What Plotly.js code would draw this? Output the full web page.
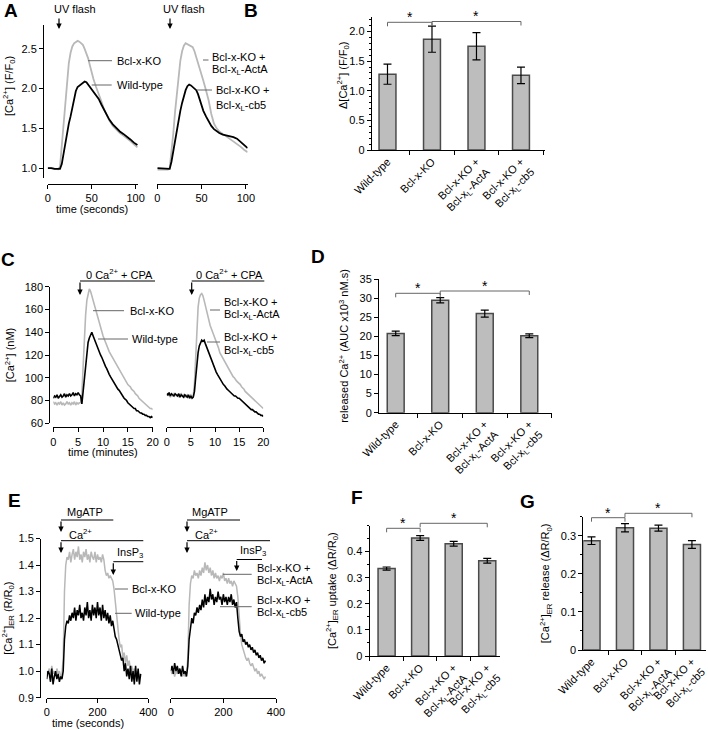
<!DOCTYPE html>
<html>
<head>
<meta charset="utf-8">
<script src="https://cdn.plot.ly/plotly-3.0.1.min.js"></script>
<style>html,body{margin:0;padding:0;background:#fff;}#chart{width:708px;height:730px;}</style>
</head>
<body>
<div id="chart"></div>
<script>
// ---------- Panel A : UV flash, [Ca2+] (F/F0) ----------
const timeA = [0,4,8,12,14,16,18,20,22,24,26,28,30,32,34,36,38,40,42,44,46,48,50,52,55,58,61,64,67,70,74,78,82,86,90,94,98,102];
const aWildType = [1.0,1.0,0.99,0.985, 0.99,1.05,1.18,1.32,1.45,1.56,1.65,1.75,1.88,1.97, 2.02,2.04,2.05,2.07,2.09,2.08,2.05,2.03,2.0,1.97, 1.92,1.87,1.8,1.74,1.67,1.61, 1.55,1.5,1.46,1.43,1.4,1.36,1.32,1.29];
const aKO = [1.0,1.0,0.99,0.985, 1.02,1.28,1.52,1.8,2.1,2.32,2.45,2.53,2.57,2.59, 2.6,2.59,2.57,2.55,2.5,2.44,2.38,2.29,2.2,2.12, 2.02,1.94,1.84,1.74,1.66,1.6, 1.53,1.48,1.44,1.41,1.38,1.34,1.3,1.26];
const aActA = [0.98,0.98,0.985,0.98, 1.0,1.2,1.43,1.7,1.95,2.18,2.35,2.47,2.54,2.57, 2.56,2.55,2.53,2.52,2.47,2.4,2.33,2.27,2.2,2.1, 1.98,1.85,1.68,1.56,1.5,1.46, 1.43,1.4,1.36,1.33,1.3,1.27,1.23,1.2];
const aCb5 = [1.0,0.995,0.99,0.985, 0.99,1.08,1.22,1.35,1.48,1.6,1.72,1.82,1.92,1.98, 2.03,2.05,2.04,2.02,2.0,1.98,1.93,1.86,1.78,1.72, 1.65,1.58,1.53,1.49,1.46,1.44, 1.42,1.41,1.4,1.39,1.37,1.33,1.29,1.25];

// ---------- Bar panels (B, D, F, G) ----------
const categories = ['Wild-type','Bcl-x-KO','Bcl-x-KO +<br>Bcl-x<sub>L</sub>-ActA','Bcl-x-KO +<br>Bcl-x<sub>L</sub>-cb5'];
const bValues = [1.28,1.87,1.75,1.26];
const bErrors = [0.17,0.22,0.23,0.14];
const dValues = [20.8,29.5,26.0,20.2];
const dErrors = [0.6,0.7,0.9,0.5];
const fValues = [0.335,0.452,0.43,0.365];
const fErrors = [0.006,0.009,0.009,0.009];
const gValues = [0.287,0.321,0.32,0.277];
const gErrors = [0.01,0.011,0.008,0.01];

// ---------- Panel C : 0 Ca2+ + CPA, [Ca2+] (nM), time in minutes ----------
const timeC = [
 0,0.25,0.5,0.75, 1,1.25,1.5,1.75, 2,2.25,2.5,2.75, 3,3.25,3.5,3.75, 4,4.25,4.5,4.75,
 5,5.25,5.5,5.75, 6,6.25,6.5,6.75, 7,7.25,7.5,7.75, 8,8.25,8.5,8.75, 9,9.25,9.5,9.75,
 10,10.25,10.5,10.75, 11,11.25,11.5,11.75, 12,12.25,12.5,12.75, 13,13.25,13.5,13.75, 14,14.25,14.5,14.75,
 15,15.25,15.5,15.75, 16,16.25,16.5,16.75, 17,17.25,17.5,17.75, 18,18.25,18.5,18.75, 19,19.25,19.5,19.75, 20];
const cWildType = [
 82,84,83,85, 82,84,85,83, 84,86,83,85, 84,86,84,85, 87,84,86,85,
 87,85,84,77, 88,100,112,124, 131,135,138,140, 137,134,131,128, 125,122,120,118,
 115,113,110,108, 105,103,101,99, 97,95,94,92, 90,89,87,85, 84,82,81,80,
 78,77,76,75, 74,73,73,71, 71,70,69,69, 68,68,67,67, 66,66,65,66, 65];
const cKO = [
 79,77,78,76, 78,77,79,76, 78,76,77,79, 77,78,76,78, 77,79,76,78,
 77,78,78,85, 110,135,155,168, 175,178,176,172, 168,163,159,155, 151,147,143,140,
 137,134,131,128, 126,123,121,119, 117,115,113,111, 109,107,105,103, 101,99,98,96,
 94,93,92,90, 89,88,86,85, 84,82,81,80, 79,78,77,76, 75,74,73,73, 72];
const cActA = [
 84,86,85,83, 85,84,86,85, 84,85,83,85, 86,84,85,83, 84,85,83,84,
 85,83,84,95, 120,145,162,170, 173,174,172,168, 163,158,153,149, 146,143,140,138,
 136,132,129,126, 122,120,118,116, 114,112,110,108, 106,104,103,101, 100,98,97,96,
 95,94,92,91, 90,88,87,86, 85,84,83,82, 81,80,79,78, 77,76,75,74, 73];
const cCb5 = [
 86,85,87,84, 86,85,84,86, 85,84,86,83, 85,84,83,85, 84,83,85,82,
 84,82,83,88, 100,112,122,128, 131,133,132,133, 130,127,124,121, 118,115,112,110,
 107,105,103,101, 99,97,96,94, 93,91,90,89, 88,87,86,85, 84,84,83,82,
 82,81,80,79, 78,77,76,75, 74,73,72,72, 71,70,70,69, 68,68,67,67, 66];

// ---------- Panel E : [Ca2+]ER (R/R0), time in seconds ----------
const timeE = [0,5,10,15,20,25,30,35,40,45, 50,55,60,65,70,75,80,85,90,95, 100,105,110,115,120,125,130,135,140,145,
 150,155,160,165,170,175,180,185,190,195, 200,205,210,215,220,225,230,235,240,245, 250,255,260,265,270,275,280,285,290,295,
 300,305,310,315,320,325,330,335,340,345, 350,355,360,365,370];
const eKO = [1.0,0.99,1.01,0.98,1.02,0.99,1.0,0.98,1.01,0.99, 1.0,0.98,0.99,1.05,1.3,1.4,1.43,1.42,1.45,1.41,
 1.44,1.46,1.42,1.45,1.43,1.47,1.42,1.44,1.41,1.45, 1.43,1.46,1.42,1.44,1.41,1.45,1.43,1.42,1.45,1.41,
 1.44,1.42,1.43,1.41,1.44,1.42,1.38,1.36,1.37,1.35, 1.36,1.35,1.34,1.31,1.26,1.2,1.16,1.12,1.09,1.1,
 1.05,1.07,1.03,1.06,1.02,1.04,1.0,1.02,0.99,1.01, 0.98,1.0,0.97,0.99,0.98];
const eWildType = [0.97,1.0,0.99,0.96,1.01,0.95,0.98,1.0,0.97,0.99, 0.96,0.98,0.97,1.0,1.12,1.17,1.19,1.18,1.21,1.19,
 1.22,1.2,1.24,1.19,1.23,1.21,1.25,1.2,1.22,1.19, 1.24,1.21,1.26,1.2,1.23,1.19,1.25,1.21,1.24,1.2,
 1.26,1.21,1.24,1.19,1.25,1.2,1.23,1.19,1.22,1.18, 1.21,1.17,1.19,1.15,1.13,1.12,1.1,1.08,1.07,1.04,
 1.05,1.0,1.03,0.98,1.01,0.97,1.02,0.96,1.0,0.95, 1.02,0.96,1.01,0.95,0.99];
const eActA = [1.0,0.99,1.0,0.98,1.0,0.99,1.01,0.99,1.0,0.98, 0.99,0.98,0.99,1.05,1.25,1.33,1.36,1.35,1.38,1.36,
 1.37,1.35,1.38,1.36,1.39,1.37,1.41,1.38,1.4,1.37, 1.39,1.36,1.38,1.35,1.37,1.35,1.36,1.34,1.36,1.35,
 1.37,1.34,1.35,1.33,1.35,1.33,1.34,1.32,1.34,1.33, 1.32,1.28,1.2,1.14,1.1,1.08,1.06,1.05,1.04,1.05,
 1.03,1.02,1.03,1.01,1.0,1.01,0.99,1.0,0.98,0.99, 0.98,0.97,0.98];
const eCb5 = [1.0,1.02,0.99,1.03,1.0,1.02,0.99,1.01,0.98,1.02, 0.99,1.0,0.98,1.02,1.12,1.17,1.2,1.18,1.22,1.21,
 1.24,1.22,1.25,1.23,1.27,1.24,1.29,1.25,1.28,1.26, 1.31,1.27,1.29,1.25,1.28,1.26,1.3,1.27,1.28,1.25,
 1.29,1.26,1.28,1.25,1.28,1.26,1.29,1.25,1.27,1.24, 1.26,1.2,1.15,1.13,1.14,1.11,1.12,1.1,1.11,1.09,
 1.1,1.08,1.09,1.07,1.08,1.06,1.07,1.05,1.06,1.04, 1.05,1.03,1.04];

// ================= drawing =================
const W = 708, H = 730;
const PX = x => x / W;
const PY = y => 1 - y / H;
const GREY = '#b8b8b8';
const FONT = 'Liberation Sans, Arial, Helvetica, sans-serif';

const traces = [];
function line(x, y, xa, ya, color, width) {
  traces.push({x: x, y: y, xaxis: xa, yaxis: ya, type: 'scatter', mode: 'lines',
    line: {color: color, width: width}, hoverinfo: 'skip'});
}
line(timeA, aKO, 'x', 'y', GREY, 1.8);
line(timeA, aWildType, 'x', 'y', '#000', 1.8);
line(timeA, aActA, 'x2', 'y2', GREY, 1.8);
line(timeA, aCb5, 'x2', 'y2', '#000', 1.8);
line(timeC, cKO, 'x4', 'y4', GREY, 1.6);
line(timeC, cWildType, 'x4', 'y4', '#000', 1.6);
line(timeC, cActA, 'x5', 'y5', GREY, 1.6);
line(timeC, cCb5, 'x5', 'y5', '#000', 1.6);
line(timeE, eKO, 'x7', 'y7', GREY, 1.5);
line(timeE, eWildType, 'x7', 'y7', '#000', 1.5);
line(timeE.slice(0, eActA.length), eActA, 'x8', 'y8', GREY, 1.5);
line(timeE.slice(0, eCb5.length), eCb5, 'x8', 'y8', '#000', 1.5);

function bars(vals, errs, xa, ya, width) {
  traces.push({type: 'bar', x: categories, y: vals, xaxis: xa, yaxis: ya, width: width,
    marker: {color: '#bdbdbd', line: {color: '#4a4a4a', width: 1.5}},
    error_y: {type: 'data', array: errs, visible: true, color: '#000', thickness: 1.2, width: 4},
    hoverinfo: 'skip'});
}
bars(bValues, bErrors, 'x3', 'y3', 0.38);
bars(dValues, dErrors, 'x6', 'y6', 0.38);
bars(fValues, fErrors, 'x9', 'y9', 0.51);
bars(gValues, gErrors, 'x10', 'y10', 0.51);

const base = {showgrid: false, zeroline: false, showline: true, linecolor: '#000', linewidth: 1,
  ticks: 'outside', ticklen: 4, tickwidth: 1, tickcolor: '#000',
  tickfont: {size: 11, color: '#000', family: FONT}, fixedrange: true};
const ax = o => Object.assign({}, base, o);
const ttl = (t, s) => ({text: t, font: {size: 11, color: '#000', family: FONT}, standoff: s});
const catAx = (d0, d1, r0, r1, anchor) => ax({type: 'category', domain: [PX(d0), PX(d1)], range: [r0, r1],
  anchor: anchor, tickson: 'boundaries', tickangle: -45, tickfont: {size: 11, color: '#000', family: FONT}});
const hidden = (domain, range, anchor) => ({domain: domain, range: range, visible: false, anchor: anchor, fixedrange: true});

const yA = [PY(178), PY(25)];
const yC = [PY(423.3), PY(286.7)];
const yE = [PY(697.7), PY(538.5)];

const layout = {
  width: W, height: H, margin: {l: 0, r: 0, t: 0, b: 0},
  paper_bgcolor: '#fff', plot_bgcolor: 'rgba(0,0,0,0)', showlegend: false,
  font: {family: FONT, size: 11, color: '#000'},
  // A
  xaxis: ax({domain: [PX(47.7), PX(138.3)], range: [0, 103], anchor: 'free', position: PY(184), tickvals: [0, 50, 100]}),
  yaxis: ax({domain: yA, range: [0.875, 2.8], anchor: 'free', position: PX(43), tickvals: [1, 1.5, 2, 2.5], tickformat: '.1f'}),
  xaxis2: ax({domain: [PX(157.3), PX(247.6)], range: [0, 102], anchor: 'free', position: PY(184), tickvals: [0, 50, 100]}),
  yaxis2: hidden(yA, [0.875, 2.8], 'x2'),
  // B
  xaxis3: catAx(371.7, 545, -0.355, 3.54, 'y3'),
  yaxis3: ax({domain: [PY(150), PY(16.7)], range: [0, 2.25], anchor: 'x3',
    tickmode: 'array', tickvals: [0, 0.5, 1, 1.5, 2], ticktext: ['0', '0.5', '1.0', '1.5', '2.0'],
    minor: {tickmode: 'linear', tick0: 0, dtick: 0.1, ticks: 'outside', ticklen: 2, tickcolor: '#000'}}),
  // C
  xaxis4: ax({domain: [PX(53.3), PX(152.7)], range: [0, 20], anchor: 'free', position: PY(427.3), dtick: 5, tick0: 0}),
  yaxis4: ax({domain: yC, range: [60, 180], anchor: 'free', position: PX(49.3), dtick: 20, tick0: 60,
    title: ttl('[Ca<sup>2+</sup>] (nM)', 6)}),
  xaxis5: ax({domain: [PX(166.7), PX(263.3)], range: [0, 20], anchor: 'free', position: PY(427.3), dtick: 5, tick0: 0}),
  yaxis5: hidden(yC, [60, 180], 'x5'),
  // D
  xaxis6: catAx(379, 552, -0.375, 3.51, 'y6'),
  yaxis6: ax({domain: [PY(412.7), PY(279.3)], range: [0, 35], anchor: 'x6', dtick: 5, tick0: 0,
    title: ttl('released Ca<sup>2+</sup> (AUC x10<sup>3</sup> nM.s)', 8)}),
  // E
  xaxis7: ax({domain: [PX(46.7), PX(148.3)], range: [0, 400], anchor: 'free', position: PY(698), tickvals: [0, 200, 400]}),
  yaxis7: ax({domain: yE, range: [0.9, 1.5], anchor: 'free', position: PX(40), dtick: 0.1, tick0: 0.9, tickformat: '.1f',
    title: ttl('[Ca<sup>2+</sup>]<sub>ER</sub> (R/R<sub>0</sub>)', 6)}),
  xaxis8: ax({domain: [PX(170.7), PX(276)], range: [0, 400], anchor: 'free', position: PY(698), tickvals: [0, 200, 400]}),
  yaxis8: hidden(yE, [0.9, 1.5], 'x8'),
  // F
  xaxis9: catAx(369.5, 500, -0.51, 3.38, 'y9'),
  yaxis9: ax({domain: [PY(656), PY(525.5)], range: [0, 0.5], anchor: 'x9',
    tickmode: 'array', tickvals: [0, 0.1, 0.2, 0.3, 0.4], ticktext: ['0', '0.1', '0.2', '0.3', '0.4'],
    minor: {tickmode: 'linear', tick0: 0, dtick: 0.05, ticks: 'outside', ticklen: 2, tickcolor: '#000'},
    title: ttl('[Ca<sup>2+</sup>]<sub>ER</sub> uptake (\u0394R/R<sub>0</sub>)', 8)}),
  // G
  xaxis10: catAx(583.3, 706, -0.245, 3.42, 'y10'),
  yaxis10: ax({domain: [PY(650), PY(516.7)], range: [0, 0.35], anchor: 'x10',
    tickmode: 'array', tickvals: [0, 0.1, 0.2, 0.3], ticktext: ['0', '0.1', '0.2', '0.3'],
    minor: {tickmode: 'linear', tick0: 0, dtick: 0.05, ticks: 'outside', ticklen: 2, tickcolor: '#000'},
    title: ttl('[Ca<sup>2+</sup>]<sub>ER</sub> release (\u0394R/R<sub>0</sub>)', 8)}),
  annotations: [], shapes: []
};

const ann = layout.annotations, shp = layout.shapes;
function txt(x, y, text, o) {
  ann.push(Object.assign({xref: 'paper', yref: 'paper', x: PX(x), y: PY(y), text: text, showarrow: false,
    xanchor: 'left', yanchor: 'middle', font: {size: 11, color: '#000', family: FONT}}, o || {}));
}
function seg(x0, y0, x1, y1, color) {
  shp.push({type: 'line', xref: 'paper', yref: 'paper', x0: PX(x0), y0: PY(y0), x1: PX(x1), y1: PY(y1),
    line: {color: color || '#000', width: 1}});
}
function arrowDown(x, yTop, yTip) {
  ann.push({xref: 'paper', yref: 'paper', x: PX(x), y: PY(yTip), ax: 0, ay: -(yTip - yTop), text: '',
    showarrow: true, arrowhead: 2, arrowsize: 0.9, arrowwidth: 1.2, arrowcolor: '#000'});
}
function letter(x, y, L) {
  txt(x, y, '<b>' + L + '</b>', {xanchor: 'center', font: {size: 19, color: '#000', family: FONT}});
}
function bracket(xa, i0, i1, y, starY) {
  const yr = 'paper';
  shp.push({type: 'line', xref: xa, yref: yr, x0: i0, x1: i1, y0: PY(y), y1: PY(y), line: {color: '#666', width: 1}});
  shp.push({type: 'line', xref: xa, yref: yr, x0: i0, x1: i0, y0: PY(y), y1: PY(y + 4), line: {color: '#666', width: 1}});
  shp.push({type: 'line', xref: xa, yref: yr, x0: i1, x1: i1, y0: PY(y), y1: PY(y + 4), line: {color: '#666', width: 1}});
  ann.push({xref: xa, yref: yr, x: (i0 + i1) / 2, y: PY(starY), text: '*', showarrow: false,
    xanchor: 'center', yanchor: 'middle', font: {size: 14, color: '#000', family: FONT}});
}

// letters
letter(11, 11, 'A'); letter(251, 11, 'B'); letter(8, 259, 'C'); letter(318, 257, 'D');
letter(14, 500, 'E'); letter(357, 497, 'F'); letter(527, 501, 'G');

// y titles placed like the reference (A and B sit above the centre of their axes)
txt(9, 86, '[Ca<sup>2+</sup>] (F/F<sub>0</sub>)', {xanchor: 'center', textangle: -90});
txt(343, 76, '\u0394[Ca<sup>2+</sup>] (F/F<sub>0</sub>)', {xanchor: 'center', textangle: -90});

// A annotations
txt(75, 9, 'UV flash', {xanchor: 'center'}); arrowDown(59, 17, 29);
txt(183.5, 9, 'UV flash', {xanchor: 'center'}); arrowDown(170, 17, 29);
seg(88, 60.7, 112, 60.7, '#666'); txt(115, 61, 'Bcl-x-KO');
seg(91.7, 85, 111.7, 85, '#666'); txt(115, 85, 'Wild-type');
seg(203, 60, 208.5, 60, '#666'); txt(210, 57.5, 'Bcl-x-KO +'); txt(210, 70, 'Bcl-x<sub>L</sub>-ActA');
seg(197, 90, 212, 90, '#666'); txt(214, 90, 'Bcl-x-KO +'); txt(214, 106, 'Bcl-x<sub>L</sub>-cb5');
txt(92, 209, 'time (seconds)', {xanchor: 'center'});

// C annotations
txt(119, 274, '0 Ca<sup>2+</sup> + CPA', {xanchor: 'center'}); seg(80, 281, 155, 281); arrowDown(80, 281, 295);
txt(229, 274, '0 Ca<sup>2+</sup> + CPA', {xanchor: 'center'}); seg(191.7, 281, 264.3, 281); arrowDown(191.7, 281, 295);
seg(93, 310.7, 124, 310.7, '#666'); txt(128, 310.7, 'Bcl-x-KO');
seg(98, 339, 128, 339, '#666'); txt(130, 339, 'Wild-type');
seg(210, 310, 220, 310, '#666'); txt(222, 302, 'Bcl-x-KO +'); txt(222, 315, 'Bcl-x<sub>L</sub>-ActA');
seg(207, 342, 220, 342, '#666'); txt(222, 337, 'Bcl-x-KO +'); txt(222, 351, 'Bcl-x<sub>L</sub>-cb5');
txt(103, 452, 'time (minutes)', {xanchor: 'center'});

// E annotations
txt(65, 512, 'MgATP'); seg(61, 520, 113.3, 520); arrowDown(61, 520, 532);
txt(67, 534, 'Ca<sup>2+</sup>'); seg(61, 540.7, 143.3, 540.7); arrowDown(61, 540.7, 553);
txt(115, 553, 'InsP<sub>3</sub>'); seg(113.3, 561.7, 143.3, 561.7); arrowDown(113.3, 561.7, 575);
txt(190, 512, 'MgATP'); seg(187, 520, 240, 520); arrowDown(187, 520, 532);
txt(193, 534, 'Ca<sup>2+</sup>'); seg(187, 540.7, 270, 540.7); arrowDown(187, 540.7, 553);
txt(238, 551, 'InsP<sub>3</sub>'); seg(236.7, 559.5, 262, 559.5); arrowDown(236.7, 559.5, 571);
seg(115, 589, 128, 589, '#666'); txt(130, 589, 'Bcl-x-KO');
seg(115, 613.3, 131.7, 613.3, '#666'); txt(133, 613.3, 'Wild-type');
seg(223, 574.3, 251.7, 574.3, '#666'); txt(255, 568, 'Bcl-x-KO +'); txt(255, 580.5, 'Bcl-x<sub>L</sub>-ActA');
seg(220, 606.7, 251.7, 606.7, '#666'); txt(255, 600, 'Bcl-x-KO +'); txt(255, 612.5, 'Bcl-x<sub>L</sub>-cb5');
txt(87.5, 723, 'time (seconds)', {xanchor: 'center'});

// significance brackets
bracket('x3', 0, 1, 22.3, 17); bracket('x3', 1, 3, 21.5, 16);
bracket('x6', 0, 1, 293.3, 288); bracket('x6', 1, 3, 291, 286);
bracket('x9', 0, 1, 528.3, 523); bracket('x9', 1, 3, 523.3, 518);
bracket('x10', 0, 1, 517.7, 512.5); bracket('x10', 1, 3, 513.3, 508);

Plotly.newPlot('chart', traces, layout, {staticPlot: true, displayModeBar: false});
</script>
</body>
</html>
